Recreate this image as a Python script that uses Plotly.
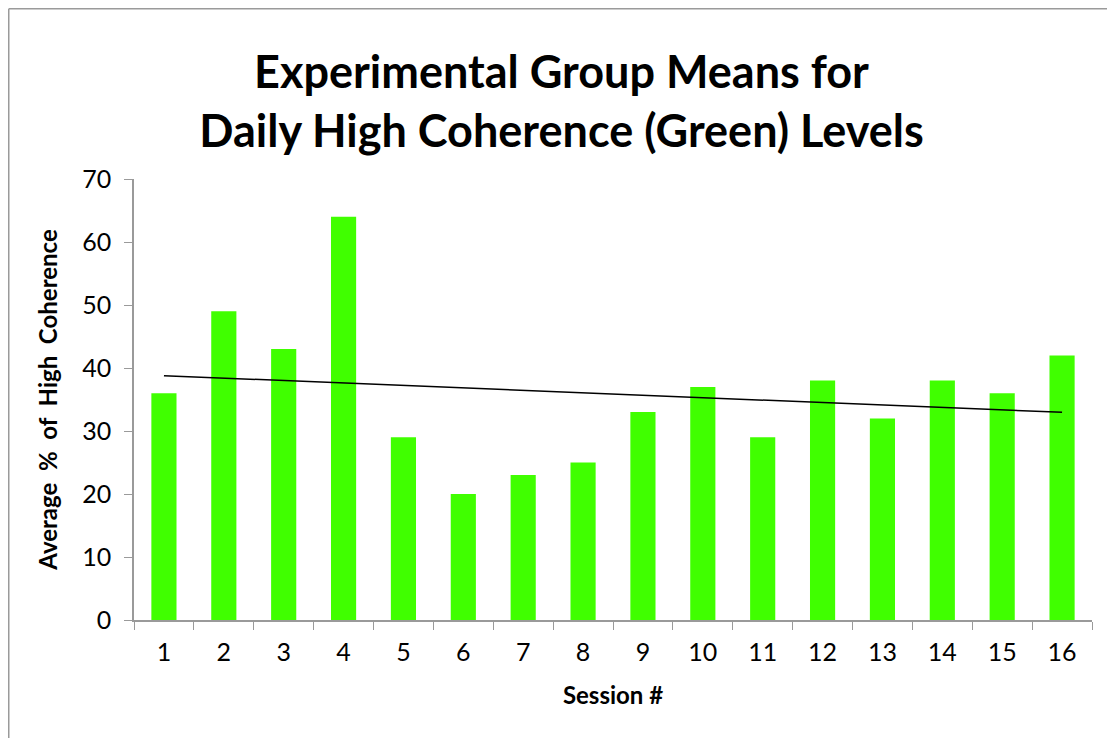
import numpy as np
import plotly.graph_objects as go

# session numbers and mean % high coherence
sessions = [str(i) for i in range(1, 17)]
means = [36, 49, 43, 64, 29, 20, 23, 25, 33, 37, 29, 38, 32, 38, 36, 42]

# linear trendline (least squares), like Excel's
x_num = np.arange(1, len(means) + 1)
slope, intercept = np.polyfit(x_num, means, 1)
trend = [intercept + slope * x_num[0], intercept + slope * x_num[-1]]

fig = go.Figure()
fig.add_trace(go.Bar(
    x=sessions, y=means,
    marker=dict(color='#40ff00', line=dict(width=0)),
    width=0.42, showlegend=False,
))
fig.add_trace(go.Scatter(
    x=[sessions[0], sessions[-1]], y=trend,
    mode='lines', line=dict(color='black', width=1.5),
    showlegend=False,
))

font_family = 'Lato, Open Sans, sans-serif'
axis_gray = '#9a9a9a'

# page body has an 8px margin, so the figure is a bit smaller than the window
W, H = 1107, 730
L, T, R, B = 126, 171, 23, 118
pw, ph = W - L - R, H - T - B

# chart frame: only the left and top edges are inside the window
fx0 = (0.75 - L) / pw
fy1 = (H - B - 0.75) / ph
frame = dict(color=axis_gray, width=1.5)

fig.update_layout(
    width=W, height=H,
    margin=dict(l=L, r=R, t=T, b=B),
    paper_bgcolor='white', plot_bgcolor='white',
    font=dict(family=font_family, color='black'),
    title=dict(
        text='<b>Experimental Group Means for<br>Daily High Coherence (Green) Levels</b>',
        x=0.5, xanchor='center', y=1 - 80 / H, yanchor='middle',
        font=dict(size=45, family=font_family),
    ),
    xaxis=dict(
        type='category', tickson='boundaries',
        ticks='outside', ticklen=8, tickcolor=axis_gray,
        showline=True, linecolor=axis_gray, linewidth=1.5,
        showgrid=False, tickfont=dict(size=25), ticklabelstandoff=9,
        title=dict(text='<b>Session #</b>', font=dict(size=24), standoff=22),
    ),
    yaxis=dict(
        range=[0, 70], dtick=10,
        ticks='outside', ticklen=8, tickcolor=axis_gray,
        showline=True, linecolor=axis_gray, linewidth=1.5,
        showgrid=False, zeroline=False, tickfont=dict(size=25), ticklabelstandoff=8,
        title=dict(text='<b>Average  %  of  High  Coherence</b>', font=dict(size=24), standoff=18),
    ),
    shapes=[
        dict(type='line', xref='paper', yref='paper', x0=fx0, x1=fx0, y0=-0.5, y1=fy1,
             line=frame, layer='below'),
        dict(type='line', xref='paper', yref='paper', x0=fx0, x1=1.2, y0=fy1, y1=fy1,
             line=frame, layer='below'),
    ],
)

fig.write_html("out.html", config={'displayModeBar': False})
